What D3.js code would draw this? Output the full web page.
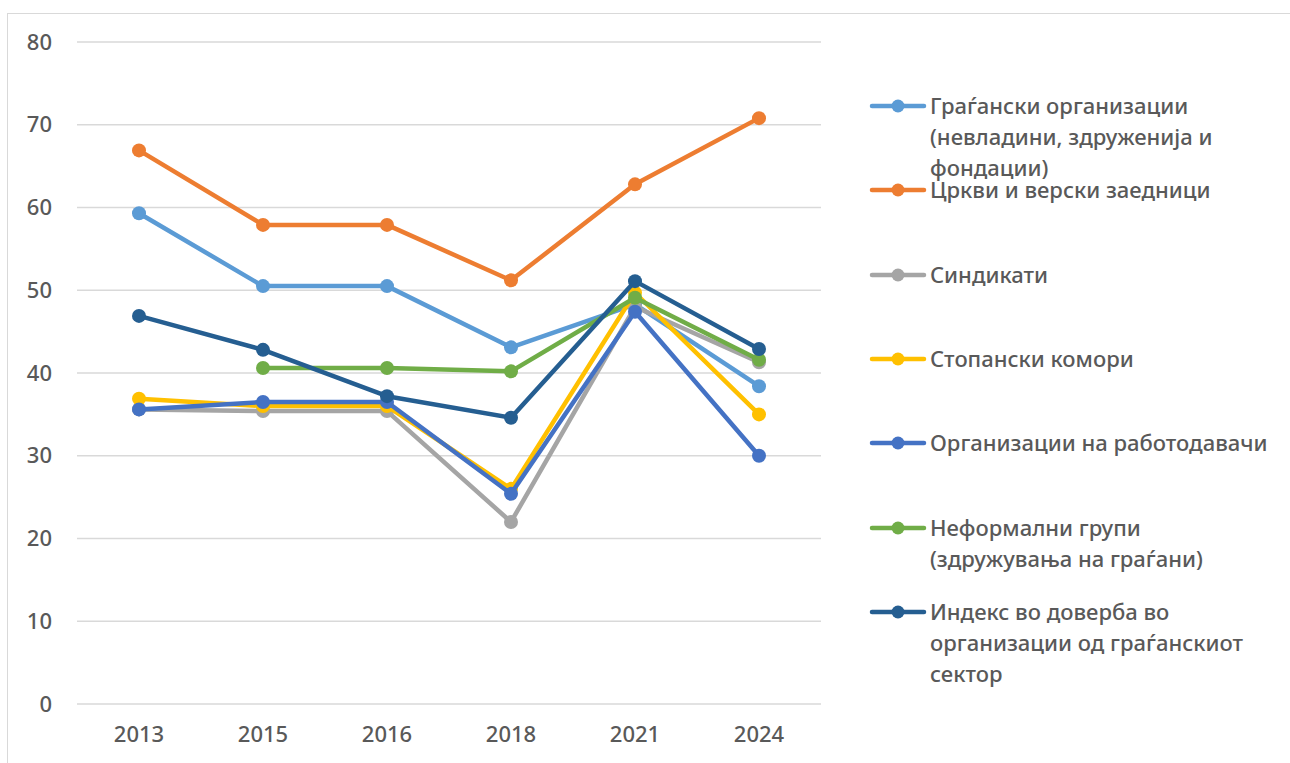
<!DOCTYPE html>
<html>
<head>
<meta charset="utf-8">
<script src="https://cdn.jsdelivr.net/npm/d3@7"></script>
<style>
  html, body { margin: 0; padding: 0; background: #fff; }
  svg { display: block; }
</style>
</head>
<body>
<svg id="chart" width="1290" height="763"></svg>
<script>
const years = ["2013", "2015", "2016", "2018", "2021", "2024"];
const yTicks = [0, 10, 20, 30, 40, 50, 60, 70, 80];

const seriesNames = [
  "Граѓански организации (невладини, здруженија и фондации)",
  "Цркви и верски заедници",
  "Синдикати",
  "Стопански комори",
  "Организации на работодавачи",
  "Неформални групи (здружувања на граѓани)",
  "Индекс во доверба во организации од граѓанскиот сектор"
];
const legendLines = [
  ["Граѓански организации", "(невладини, здруженија и", "фондации)"],
  ["Цркви и верски заедници"],
  ["Синдикати"],
  ["Стопански комори"],
  ["Организации на работодавачи"],
  ["Неформални групи", "(здружувања на граѓани)"],
  ["Индекс во доверба во", "организации од граѓанскиот", "сектор"]
];
const seriesColors = ["#5B9BD5", "#ED7D31", "#A5A5A5", "#FFC000", "#4472C4", "#70AD47", "#255E91"];

const civilValues     = [59.3, 50.5, 50.5, 43.1, 48.3, 38.4];
const churchValues    = [66.9, 57.9, 57.9, 51.2, 62.8, 70.8];
const unionValues     = [35.6, 35.4, 35.4, 22.0, 48.0, 41.3];
const chamberValues   = [36.9, 36.0, 36.0, 26.0, 49.7, 35.0];
const employerValues  = [35.6, 36.5, 36.5, 25.4, 47.4, 30.0];
const informalValues  = [null, 40.6, 40.6, 40.2, 49.1, 41.6];
const indexValues     = [46.9, 42.8, 37.2, 34.6, 51.1, 42.9];

const allValues = [civilValues, churchValues, unionValues, chamberValues, employerValues, informalValues, indexValues];

const svg = d3.select("#chart");
const textColor = "#595959";
const font = "'Noto Sans', 'Open Sans', sans-serif";

// chart border
svg.append("rect")
  .attr("x", 7.5).attr("y", 13.5)
  .attr("width", 1300).attr("height", 800)
  .attr("fill", "none").attr("stroke", "#d9d9d9").attr("stroke-width", 1);

const plotLeft = 77, plotRight = 821, plotTop = 42, plotBottom = 704;

const x = d3.scaleBand().domain(years).range([plotLeft, plotRight]);
const y = d3.scaleLinear().domain([0, 80]).range([plotBottom, plotTop]);

// gridlines
svg.append("g").selectAll("line").data(yTicks).join("line")
  .attr("x1", plotLeft).attr("x2", plotRight)
  .attr("y1", d => y(d)).attr("y2", d => y(d))
  .attr("stroke", "#d9d9d9").attr("stroke-width", 1.5);

// y axis labels
const yAxis = d3.axisLeft(y).tickValues(yTicks).tickSize(0).tickPadding(0);
const yg = svg.append("g").attr("transform", `translate(52,0)`).call(yAxis);
yg.select(".domain").remove();
yg.selectAll("text").attr("fill", textColor).style("font-family", font)
  .style("font-size", "22px").style("font-weight", 500);

// x axis labels
const xAxis = d3.axisBottom(x).tickSize(0).tickPadding(0);
const xg = svg.append("g").attr("transform", `translate(0,${plotBottom + 22})`).call(xAxis);
xg.select(".domain").remove();
xg.selectAll("text").attr("fill", textColor).style("font-family", font)
  .style("font-size", "22px").style("font-weight", 500);

const cx = d => x(d) + x.bandwidth() / 2;
const line = d3.line()
  .defined(d => d.v !== null)
  .x(d => cx(d.year))
  .y(d => y(d.v));

allValues.forEach((vals, i) => {
  const pts = years.map((yr, j) => ({ year: yr, v: vals[j] }));
  const g = svg.append("g");
  g.append("path")
    .datum(pts)
    .attr("d", line)
    .attr("fill", "none")
    .attr("stroke", seriesColors[i])
    .attr("stroke-width", 4.5)
    .attr("stroke-linejoin", "round")
    .attr("stroke-linecap", "round");
  g.selectAll("circle").data(pts.filter(d => d.v !== null)).join("circle")
    .attr("cx", d => cx(d.year))
    .attr("cy", d => y(d.v))
    .attr("r", 7)
    .attr("fill", seriesColors[i]);
});

// legend
const legendY = [106, 190, 275, 359, 443, 528, 612];
const legend = svg.append("g");
legendLines.forEach((lines, i) => {
  const ly = legendY[i];
  legend.append("line")
    .attr("x1", 872).attr("x2", 924)
    .attr("y1", ly).attr("y2", ly)
    .attr("stroke", seriesColors[i]).attr("stroke-width", 4.5)
    .attr("stroke-linecap", "round");
  legend.append("circle")
    .attr("cx", 898).attr("cy", ly).attr("r", 6.5)
    .attr("fill", seriesColors[i]);
  const t = legend.append("text")
    .attr("x", 930).attr("y", ly)
    .attr("fill", textColor)
    .style("font-family", font).style("font-size", "22px").style("font-weight", 500);
  lines.forEach((ln, k) => {
    t.append("tspan").attr("x", 930).attr("y", ly + 8 + k * 31).text(ln);
  });
});
</script>
</body>
</html>
